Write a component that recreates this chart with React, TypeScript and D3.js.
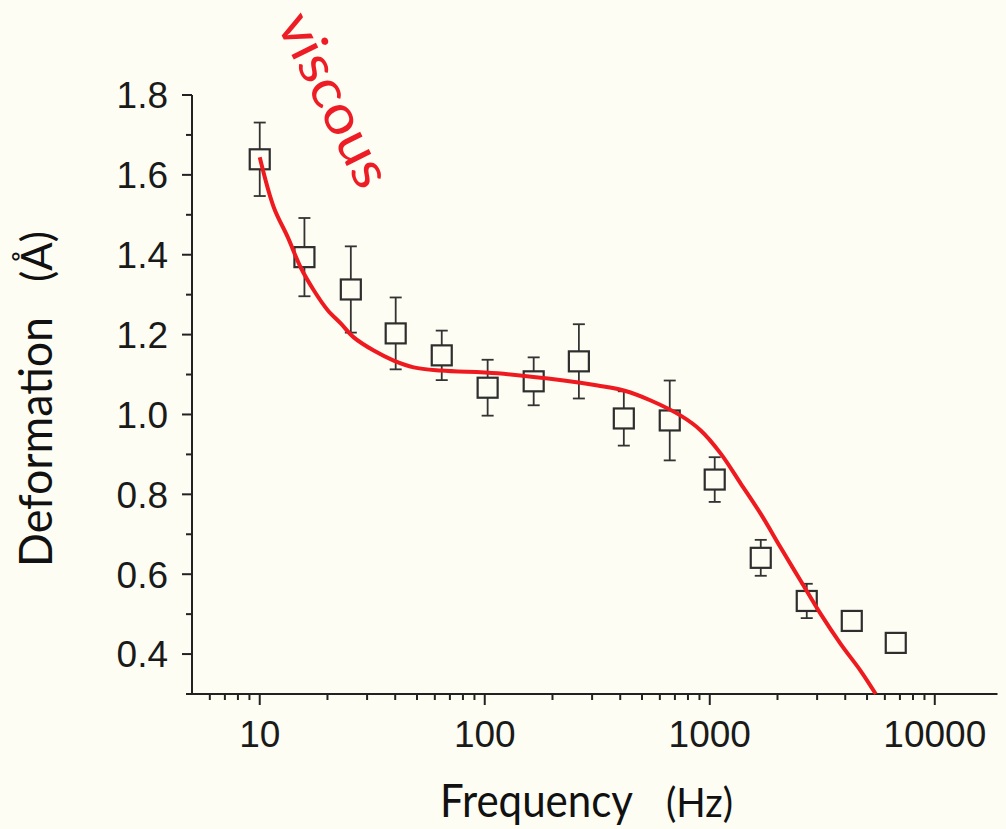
import React from "react";
import * as d3 from "d3";

// Measured data (frequency in Hz, deformation in Å, ± error)
const freqs = [10, 15.8, 25.4, 40.2, 64.4, 103, 165, 262, 415, 664, 1052, 1685, 2698, 4277, 6708];
const deform = [1.639, 1.394, 1.313, 1.203, 1.148, 1.067, 1.083, 1.133, 0.99, 0.985, 0.837, 0.641, 0.533, 0.483, 0.428];
const errors = [0.092, 0.098, 0.108, 0.09, 0.062, 0.07, 0.06, 0.093, 0.068, 0.1, 0.056, 0.045, 0.043, 0.025, 0.025];

// Fitted curve
const fitFreq = [10, 11.54, 13.32, 15.21, 17.38, 20.05, 22.91, 26.17, 32.11, 39.4, 48.35, 63.74, 114.2, 224.5, 317.8, 414.8, 546.8, 743, 912, 1119, 1373, 1685, 2068, 2538, 3114, 3821, 4690, 5467];
const fitDeform = [1.644, 1.519, 1.444, 1.368, 1.311, 1.261, 1.228, 1.193, 1.16, 1.135, 1.118, 1.11, 1.103, 1.085, 1.0725, 1.06, 1.035, 0.997, 0.96, 0.902, 0.827, 0.751, 0.666, 0.583, 0.5, 0.425, 0.3575, 0.3];

const xMajorTicks = [10, 100, 1000, 10000];
const xTickLabels = ["10", "100", "1000", "10000"];
const xMinorTicks = [6, 7, 8, 9, 20, 30, 40, 50, 60, 70, 80, 90, 200, 300, 400, 500, 600, 700, 800, 900, 2000, 3000, 4000, 5000, 6000, 7000, 8000, 9000];
const yMajorTicks = [0.4, 0.6, 0.8, 1.0, 1.2, 1.4, 1.6, 1.8];
const yMinorTicks = [0.3, 0.5, 0.7, 0.9, 1.1, 1.3, 1.5, 1.7];

const W = 1006;
const H = 829;
const BG = "#fdfdf3";
const AX = "#222";

export default function App() {
  const x = d3.scaleLog().domain([5, 19000]).range([192, 997.5]);
  const y = d3.scaleLinear().domain([0.3, 1.8]).range([694, 95]);
  const line = d3
    .line<number>()
    .x((_, i) => x(fitFreq[i]))
    .y((d) => y(d))
    .curve(d3.curveCatmullRom.alpha(0.5));

  const x0 = x.range()[0];
  const y0 = y.range()[0];
  const tickFont = "'Liberation Sans', Arial, sans-serif";
  const titleFont = "Lato, 'Open Sans', sans-serif";

  return (
    <svg
      width={W}
      height={H}
      style={{ position: "absolute", left: 0, top: 0, background: BG }}
    >
      <rect x={0} y={0} width={W} height={H} fill={BG} />

      {/* Y axis */}
      <line x1={x0} x2={x0} y1={y(1.8)} y2={y0} stroke={AX} strokeWidth={2} />
      {yMajorTicks.map((t) => (
        <g key={"ym" + t}>
          <line x1={x0 - 10} x2={x0} y1={y(t)} y2={y(t)} stroke={AX} strokeWidth={2} />
          <text
            x={168}
            y={y(t)}
            dy="0.36em"
            textAnchor="end"
            fontFamily={tickFont}
            fontSize={37}
            fill="#1a1a1a"
          >
            {t.toFixed(1)}
          </text>
        </g>
      ))}
      {yMinorTicks.map((t) => (
        <line key={"yn" + t} x1={x0 - 6} x2={x0} y1={y(t)} y2={y(t)} stroke={AX} strokeWidth={2} />
      ))}

      {/* X axis */}
      <line x1={x0 - 1} x2={x.range()[1]} y1={y0} y2={y0} stroke={AX} strokeWidth={2} />
      {xMajorTicks.map((t, i) => (
        <g key={"xm" + t}>
          <line x1={x(t)} x2={x(t)} y1={y0} y2={y0 + 11} stroke={AX} strokeWidth={2} />
          <text
            x={x(t)}
            y={747}
            textAnchor="middle"
            fontFamily={tickFont}
            fontSize={37}
            fill="#1a1a1a"
          >
            {xTickLabels[i]}
          </text>
        </g>
      ))}
      {xMinorTicks.map((t) => (
        <line key={"xn" + t} x1={x(t)} x2={x(t)} y1={y0} y2={y0 + 6} stroke={AX} strokeWidth={2} />
      ))}

      {/* Error bars */}
      {freqs.map((f, i) => {
        const cx = x(f);
        const top = y(deform[i] + errors[i]);
        const bot = y(deform[i] - errors[i]);
        return (
          <g key={"e" + i} stroke="#333" strokeWidth={1.8}>
            <line x1={cx} x2={cx} y1={top} y2={bot} />
            <line x1={cx - 6} x2={cx + 6} y1={top} y2={top} />
            <line x1={cx - 6} x2={cx + 6} y1={bot} y2={bot} />
          </g>
        );
      })}

      {/* Square markers */}
      {freqs.map((f, i) => (
        <rect
          key={"p" + i}
          x={x(f) - 10}
          y={y(deform[i]) - 10}
          width={20}
          height={20}
          fill={BG}
          stroke="#2e2e2e"
          strokeWidth={2.2}
        />
      ))}

      {/* Fit curve */}
      <path d={line(fitDeform) || ""} fill="none" stroke="#ee1a1f" strokeWidth={4} />

      {/* Annotation */}
      <text
        transform="translate(276,24) rotate(63.5)"
        fontFamily={titleFont}
        fontSize={54}
        fill="#ee1c25"
        textLength={188}
        lengthAdjust="spacingAndGlyphs"
      >
        viscous
      </text>

      {/* Axis titles */}
      <text
        transform="translate(52,567) rotate(-90)"
        fontFamily={titleFont}
        fontSize={46}
        fill="#111"
        textLength={250}
        lengthAdjust="spacingAndGlyphs"
      >
        Deformation
      </text>
      <text
        transform="translate(52,282) rotate(-90)"
        fontFamily={titleFont}
        fontSize={42}
        fill="#111"
      >
        (Å)
      </text>
      <text
        x={440}
        y={817}
        fontFamily={titleFont}
        fontSize={46}
        fill="#111"
        textLength={193}
        lengthAdjust="spacingAndGlyphs"
      >
        Frequency
      </text>
      <text
        x={666}
        y={817}
        fontFamily={titleFont}
        fontSize={40}
        fill="#111"
        textLength={67}
        lengthAdjust="spacingAndGlyphs"
      >
        (Hz)
      </text>
    </svg>
  );
}
